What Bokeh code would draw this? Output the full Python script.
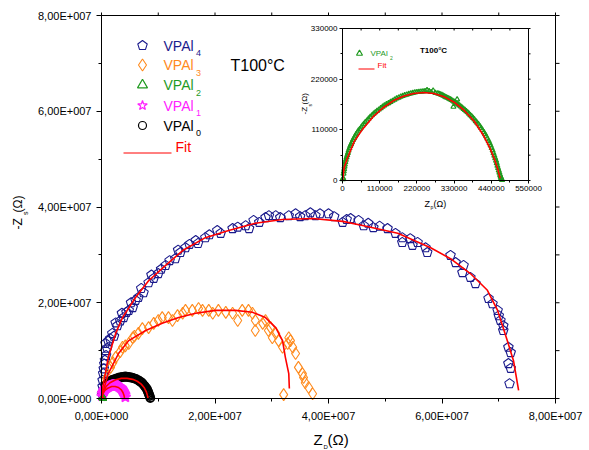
import numpy as np
from bokeh.plotting import figure
from bokeh.models import Range1d, LinearAxis, FixedTicker, Label
from bokeh.embed import file_html
from bokeh.resources import INLINE

# ---------------- data ----------------
x_ticks = [0, 2e7, 4e7, 6e7, 8e7]
x_minor = [1e7, 3e7, 5e7, 7e7]
x_tick_labels = ["0,00E+000", "2,00E+007", "4,00E+007", "6,00E+007", "8,00E+007"]
y_ticks = [0, 2e7, 4e7, 6e7, 8e7]
y_minor = [1e7, 3e7, 5e7, 7e7]
y_tick_labels = ["0,00E+000", "2,00E+007", "4,00E+007", "6,00E+007", "8,00E+007"]

inset_x_ticks = [0, 110000, 220000, 330000, 440000, 550000]
inset_x_minor = [55000, 165000, 275000, 385000, 495000]
inset_x_labels = ["0", "110000", "220000", "330000", "440000", "550000"]
inset_y_ticks = [0, 110000, 220000, 330000]
inset_y_minor = [55000, 165000, 275000]
inset_y_labels = ["0", "110000", "220000", "330000"]

# VPAl4 (blue pentagons)
vpal4_x = [0.01e7, 0.02e7, 0.02e7, 0.03e7, 0.04e7, 0.05e7, 0.06e7, 0.08e7, 0.07e7, 0.10e7,
           0.07e7, 0.12e7, 0.15e7, 0.19e7, 0.22e7, 0.28e7, 0.25e7, 0.33e7, 0.39e7, 0.36e7,
           0.44e7, 0.48e7, 0.55e7, 0.52e7, 0.65e7, 0.60e7, 0.74e7, 0.70e7, 0.83e7, 0.92e7,
           0.88e7, 1.00e7, 1.05e7, 1.13e7, 1.20e7, 1.30e7, 1.39e7, 1.35e7, 1.48e7, 1.55e7,
           1.66e7, 1.70e7, 1.83e7, 1.90e7, 2.04e7, 2.10e7, 2.31e7, 2.40e7, 2.54e7, 2.60e7,
           2.68e7, 2.78e7, 2.89e7, 2.95e7, 3.07e7, 3.15e7, 3.30e7, 3.42e7, 3.50e7, 3.59e7,
           3.68e7, 3.77e7, 3.85e7, 4.00e7, 4.10e7, 4.25e7, 4.32e7, 4.39e7, 4.53e7, 4.62e7,
           4.70e7, 4.79e7, 4.90e7, 5.04e7, 5.18e7, 5.30e7, 5.30e7, 5.44e7, 5.48e7, 5.57e7,
           5.71e7, 5.74e7, 6.15e7, 6.24e7, 6.38e7, 6.36e7, 6.50e7, 6.59e7, 6.82e7, 6.89e7,
           6.98e7, 7.00e7, 7.03e7, 7.08e7, 7.08e7, 7.17e7, 7.21e7, 7.17e7, 7.21e7, 7.19e7]
vpal4_y = [0.10e7, 0.25e7, 0.38e7, 0.52e7, 0.62e7, 0.72e7, 0.80e7, 0.90e7, 1.00e7, 1.05e7,
           1.15e7, 1.20e7, 1.25e7, 1.36e7, 1.30e7, 1.52e7, 1.58e7, 1.62e7, 1.69e7, 1.78e7,
           1.80e7, 1.84e7, 1.90e7, 2.00e7, 2.11e7, 2.05e7, 2.21e7, 2.30e7, 2.42e7, 2.51e7,
           2.58e7, 2.61e7, 2.70e7, 2.78e7, 2.88e7, 2.92e7, 3.05e7, 3.10e7, 3.15e7, 3.22e7,
           3.30e7, 3.24e7, 3.36e7, 3.42e7, 3.51e7, 3.45e7, 3.55e7, 3.58e7, 3.61e7, 3.55e7,
           3.72e7, 3.68e7, 3.78e7, 3.82e7, 3.82e7, 3.78e7, 3.82e7, 3.86e7, 3.80e7, 3.82e7,
           3.88e7, 3.82e7, 3.86e7, 3.86e7, 3.80e7, 3.68e7, 3.74e7, 3.76e7, 3.72e7, 3.61e7,
           3.66e7, 3.57e7, 3.60e7, 3.55e7, 3.45e7, 3.36e7, 3.26e7, 3.34e7, 3.20e7, 3.26e7,
           3.15e7, 3.05e7, 2.99e7, 2.84e7, 2.78e7, 2.63e7, 2.53e7, 2.40e7, 2.09e7, 1.98e7,
           1.84e7, 1.73e7, 1.63e7, 1.52e7, 1.42e7, 1.07e7, 0.96e7, 0.73e7, 0.63e7, 0.31e7]
fit4_x = [0, 0.018e7, 0.12e7, 0.25e7, 0.37e7, 0.60e7, 0.83e7, 1.13e7, 1.43e7, 1.83e7, 2.24e7,
          2.71e7, 3.19e7, 3.72e7, 4.25e7, 4.62e7, 5.22e7, 5.80e7, 6.15e7, 6.50e7, 6.80e7,
          6.98e7, 7.15e7, 7.26e7, 7.35e7]
fit4_y = [0, 0.20e7, 0.86e7, 1.36e7, 1.69e7, 2.11e7, 2.46e7, 2.78e7, 3.09e7, 3.36e7, 3.51e7,
          3.66e7, 3.74e7, 3.76e7, 3.70e7, 3.61e7, 3.45e7, 3.15e7, 2.92e7, 2.61e7, 2.26e7,
          1.84e7, 1.21e7, 0.79e7, 0.17e7]

# VPAl3 (orange diamonds)
vpal3_x = [0.03e7, 0.07e7, 0.10e7, 0.16e7, 0.20e7, 0.25e7, 0.33e7, 0.37e7, 0.42e7, 0.48e7,
           0.55e7, 0.58e7, 0.65e7, 0.72e7, 0.83e7, 0.92e7, 1.00e7, 1.07e7, 1.18e7, 1.25e7,
           1.34e7, 1.43e7, 1.48e7, 1.60e7, 1.71e7, 1.78e7, 1.89e7, 1.96e7, 2.06e7, 2.19e7,
           2.31e7, 2.40e7, 2.48e7, 2.59e7, 2.66e7, 2.71e7, 2.71e7, 2.84e7, 2.89e7, 2.94e7,
           2.98e7, 3.01e7, 3.07e7, 3.12e7, 3.19e7, 3.28e7, 3.30e7, 3.33e7, 3.37e7, 3.42e7,
           3.47e7, 3.54e7, 3.56e7, 3.59e7, 3.65e7, 3.72e7, 3.21e7]
vpal3_y = [0.15e7, 0.38e7, 0.45e7, 0.65e7, 0.75e7, 0.86e7, 0.98e7, 1.07e7, 1.10e7, 1.15e7,
           1.27e7, 1.30e7, 1.36e7, 1.46e7, 1.48e7, 1.57e7, 1.63e7, 1.69e7, 1.69e7, 1.63e7,
           1.73e7, 1.78e7, 1.84e7, 1.84e7, 1.88e7, 1.84e7, 1.84e7, 1.78e7, 1.84e7, 1.80e7,
           1.78e7, 1.63e7, 1.84e7, 1.84e7, 1.78e7, 1.63e7, 1.42e7, 1.57e7, 1.63e7, 1.42e7,
           1.48e7, 1.27e7, 1.36e7, 1.21e7, 1.07e7, 1.15e7, 1.27e7, 1.21e7, 1.07e7, 0.94e7,
           0.65e7, 0.52e7, 0.44e7, 0.33e7, 0.23e7, 0.10e7, 0.08e7]
fit3_x = [0, 0.018e7, 0.12e7, 0.30e7, 0.48e7, 0.78e7, 1.07e7, 1.36e7, 1.66e7, 2.01e7, 2.36e7,
          2.66e7, 2.89e7, 3.07e7, 3.19e7, 3.24e7, 3.30e7, 3.31e7]
fit3_y = [0, 0.10e7, 0.52e7, 0.94e7, 1.21e7, 1.42e7, 1.57e7, 1.69e7, 1.78e7, 1.84e7, 1.84e7,
          1.80e7, 1.69e7, 1.48e7, 1.21e7, 0.86e7, 0.52e7, 0.21e7]

# VPAl2 (green triangles) - also shown in the inset
vpal2_x = [1000, 2000, 3000, 4000, 5000, 6000, 7000, 8500, 10000, 12000, 14000, 16000, 18000,
           20500, 23000, 25500, 28000, 31000, 34000, 37000, 40000, 43500, 47000, 51000, 55000,
           59000, 63000, 67500, 72000, 77000, 82000, 87000, 92000, 97000, 102000, 107500,
           113000, 118500, 124000, 130000, 136000, 142000, 148000, 154000, 160000, 166000,
           172000, 178000, 184000, 190000, 196000, 202000, 208000, 214000, 220000, 226000,
           232000, 238000, 244000, 250000, 256000, 262000, 268000, 275000, 282000, 286000,
           290000, 294000, 298000, 302000, 306000, 310000, 314000, 318000, 322000, 326000,
           330000, 334000, 338000, 342000, 346000, 350000, 354000, 358000, 362000, 366000,
           370000, 374000, 378000, 382000, 386000, 390000, 394000, 398000, 402000, 406000,
           410000, 414000, 418000, 421500, 425000, 428500, 432000, 435000, 438000, 441000,
           444000, 446500, 449000, 451500, 454000, 456000, 458000, 460000, 462000, 464000,
           466000, 467500, 469000, 470500, 472000, 328000, 339000]
vpal2_y = [3000, 5000, 15000, 20000, 25000, 30000, 35000, 40000, 45000, 50000, 55000, 60000,
           65000, 70000, 75000, 79000, 83000, 88000, 92000, 96000, 100000, 104000, 108000,
           111500, 115000, 119000, 123000, 126500, 130000, 134000, 138000, 141500, 145000,
           148000, 151000, 154000, 157000, 160000, 163000, 165500, 168000, 170500, 173000,
           175500, 178000, 180000, 182000, 183500, 185000, 186500, 188000, 189000, 190000,
           191000, 192000, 192500, 193000, 193500, 194000, 196000, 194000, 192000, 195000,
           190000, 189000, 188000, 187000, 185500, 184000, 182500, 181000, 179500, 178000,
           176500, 175000, 173000, 171000, 169000, 167000, 165000, 163000, 160500, 158000,
           155500, 153000, 150500, 148000, 145000, 142000, 139000, 136000, 132500, 129000,
           125500, 122000, 118000, 114000, 109500, 105000, 100500, 96000, 91000, 86000, 81000,
           76000, 70500, 65000, 59500, 54000, 48500, 43000, 37500, 32000, 27000, 22000, 17000,
           12000, 8500, 5000, 3000, 1000, 160000, 176000]
fit2_x = [0, 5000, 15000, 35000, 60000, 90000, 120000, 150000, 180000, 210000, 240000, 270000,
          300000, 330000, 360000, 390000, 415000, 435000, 450000, 460000, 466000]
fit2_y = [0, 28000, 50000, 85000, 112000, 138000, 158000, 173000, 183000, 189000, 191000,
          189000, 182000, 170000, 152000, 128000, 100000, 72000, 45000, 22000, 5000]

# VPAl1 (magenta stars)
vpal1_x = [0.01e7, 0.02e7, 0.03e7, 0.04e7, 0.05e7, 0.06e7, 0.07e7, 0.08e7, 0.095e7, 0.11e7,
           0.125e7, 0.14e7, 0.155e7, 0.17e7, 0.185e7, 0.20e7, 0.215e7, 0.23e7, 0.245e7, 0.26e7,
           0.275e7, 0.29e7, 0.305e7, 0.32e7, 0.335e7, 0.35e7, 0.36e7, 0.37e7, 0.38e7, 0.39e7,
           0.40e7, 0.41e7, 0.42e7]
vpal1_y = [0.05e7, 0.10e7, 0.13e7, 0.15e7, 0.17e7, 0.19e7, 0.21e7, 0.22e7, 0.23e7, 0.24e7,
           0.25e7, 0.26e7, 0.265e7, 0.27e7, 0.275e7, 0.28e7, 0.28e7, 0.28e7, 0.275e7, 0.27e7,
           0.265e7, 0.26e7, 0.25e7, 0.24e7, 0.225e7, 0.21e7, 0.19e7, 0.17e7, 0.15e7, 0.13e7,
           0.10e7, 0.08e7, 0.03e7]
fit1_x = [0, 0.02e7, 0.06e7, 0.12e7, 0.18e7, 0.24e7, 0.30e7, 0.35e7, 0.38e7, 0.40e7, 0.405e7]
fit1_y = [0, 0.09e7, 0.17e7, 0.22e7, 0.25e7, 0.25e7, 0.23e7, 0.18e7, 0.12e7, 0.05e7, 0]

# VPAl0 (black circles)
vpal0_x = [0.02e7, 0.03e7, 0.04e7, 0.06e7, 0.07e7, 0.09e7, 0.10e7, 0.12e7, 0.14e7, 0.16e7,
           0.18e7, 0.20e7, 0.22e7, 0.25e7, 0.27e7, 0.30e7, 0.32e7, 0.35e7, 0.37e7, 0.40e7,
           0.42e7, 0.45e7, 0.47e7, 0.50e7, 0.52e7, 0.55e7, 0.57e7, 0.60e7, 0.62e7, 0.65e7,
           0.67e7, 0.70e7, 0.72e7, 0.74e7, 0.76e7, 0.78e7, 0.80e7, 0.81e7, 0.82e7, 0.83e7,
           0.84e7, 0.85e7, 0.86e7]
vpal0_y = [0.10e7, 0.14e7, 0.18e7, 0.24e7, 0.26e7, 0.29e7, 0.31e7, 0.33e7, 0.35e7, 0.36e7,
           0.38e7, 0.39e7, 0.40e7, 0.41e7, 0.42e7, 0.43e7, 0.44e7, 0.44e7, 0.45e7, 0.45e7,
           0.46e7, 0.45e7, 0.45e7, 0.44e7, 0.44e7, 0.43e7, 0.42e7, 0.41e7, 0.40e7, 0.38e7,
           0.36e7, 0.34e7, 0.32e7, 0.29e7, 0.26e7, 0.23e7, 0.20e7, 0.17e7, 0.14e7, 0.11e7,
           0.08e7, 0.05e7, 0.01e7]
fit0_x = [0, 0.03e7, 0.08e7, 0.15e7, 0.25e7, 0.35e7, 0.45e7, 0.55e7, 0.63e7, 0.70e7, 0.75e7,
          0.79e7, 0.81e7, 0.82e7]
fit0_y = [0, 0.13e7, 0.25e7, 0.33e7, 0.39e7, 0.42e7, 0.42e7, 0.40e7, 0.36e7, 0.30e7, 0.23e7,
          0.14e7, 0.06e7, 0]

legend_names = ["VPAl", "VPAl", "VPAl", "VPAl", "VPAl"]
legend_subs = ["4", "3", "2", "1", "0"]
temp_label = "T100°C"

# ---------------- styles / layout ----------------
BLUE, ORANGE, GREEN, MAGENTA, BLACK, RED = "#1a1a8c", "#ff8a1c", "#1f9a1f", "#ff22ff", "#000000", "#ff0000"
FONT = "Liberation Sans"

W, H = 589, 450
FL, FR, FT, FB = 101, 555, 15, 398      # main axes box (canvas px)
IL, IR, IT, IB = 342, 528, 28, 180      # inset box (canvas px)

XMAX, YMAX = x_ticks[-1], y_ticks[-1]
sx = XMAX / (FR - FL)
sy = YMAX / (FB - FT)
IXMAX, IYMAX = inset_x_ticks[-1], inset_y_ticks[-1]
ixs = IXMAX / (IR - IL)
iys = IYMAX / (IB - IT)

# the plotting frame covers the whole canvas; the axes are drawn at fixed locations
p = figure(width=W, height=H, output_backend="svg", toolbar_location=None,
           x_range=Range1d(-FL * sx, XMAX + (W - FR) * sx),
           y_range=Range1d(-(H - FB) * sy, YMAX + FT * sy),
           x_axis_type=None, y_axis_type=None, min_border=0)
p.min_border_left = p.min_border_right = p.min_border_top = p.min_border_bottom = 0
p.xgrid.visible = False
p.ygrid.visible = False
p.outline_line_color = None
p.background_fill_color = "white"
p.border_fill_color = "white"

p.extra_x_ranges = {
    "cx": Range1d(0, W),
    "ix": Range1d(-IL * ixs, IXMAX + (W - IR) * ixs),
}
p.extra_y_ranges = {
    "cy": Range1d(H, 0),
    "iy": Range1d(-(H - IB) * iys, IYMAX + IT * iys),
}


def style_axis(ax, size="11px", tick=5, minor=3, standoff=5):
    ax.axis_line_color = "black"
    ax.axis_line_width = 1
    ax.major_tick_out = tick
    ax.major_tick_in = 0
    ax.minor_tick_out = minor
    ax.minor_tick_in = 0
    ax.major_tick_line_color = "black"
    ax.minor_tick_line_color = "black"
    ax.major_label_text_font = FONT
    ax.major_label_text_font_size = size
    ax.major_label_text_color = "black"
    ax.major_label_standoff = standoff
    ax.axis_label = None


def pentagons(xs, ys, size, **kw):
    try:
        return p.ngon(x=xs, y=ys, radius=size / 2.0, radius_units="screen", n=5,
                      fill_color=None, line_color=BLUE, line_width=1.1, **kw)
    except Exception:
        return p.scatter(x=xs, y=ys, marker="hex", size=size, fill_color=None,
                         line_color=BLUE, line_width=1.1, **kw)


# ---- main box and axes ----
p.quad(left=[0], right=[XMAX], bottom=[0], top=[YMAX], fill_color=None, line_color="black", line_width=1)
xb = LinearAxis(fixed_location=0, bounds=(0, XMAX),
                ticker=FixedTicker(ticks=x_ticks, minor_ticks=x_minor),
                major_label_overrides=dict(zip(x_ticks, x_tick_labels)))
style_axis(xb, standoff=6)
p.add_layout(xb, "below")
yl = LinearAxis(fixed_location=0, bounds=(0, YMAX),
                ticker=FixedTicker(ticks=y_ticks, minor_ticks=y_minor),
                major_label_overrides=dict(zip(y_ticks, y_tick_labels)))
style_axis(yl)
p.add_layout(yl, "left")
# mirrored ticks (top / right)
top_t = x_ticks + x_minor
p.segment(x0=top_t, y0=[YMAX] * len(top_t), x1=top_t, y1=[YMAX + 3 * sy] * len(top_t),
          line_color="black", line_width=1)
right_t = y_ticks + y_minor
p.segment(x0=[XMAX] * len(right_t), y0=right_t, x1=[XMAX + 4 * sx] * len(right_t), y1=right_t,
          line_color="black", line_width=1)

# ---- main data ----
pentagons(vpal4_x, vpal4_y, 10)
p.scatter(vpal3_x, vpal3_y, marker="diamond", size=12, fill_color=None, line_color=ORANGE, line_width=1.1)
p.scatter(vpal0_x, vpal0_y, marker="circle", size=8, fill_color=None, line_color=BLACK, line_width=1.8)
p.scatter(vpal1_x, vpal1_y, marker="star", size=11, fill_color=None, line_color=MAGENTA, line_width=1.8)
p.scatter(vpal2_x, vpal2_y, marker="triangle", size=5, fill_color=None, line_color=GREEN, line_width=1)
for fxs, fys in [(fit4_x, fit4_y), (fit3_x, fit3_y), (fit0_x, fit0_y), (fit1_x, fit1_y), (fit2_x, fit2_y)]:
    p.line(fxs, fys, line_color=RED, line_width=1.6)

# ---- inset ----
ir = dict(x_range_name="ix", y_range_name="iy")
p.quad(left=[0], right=[IXMAX], bottom=[0], top=[IYMAX], fill_color="white",
       line_color="black", line_width=1, **ir)
p.scatter(vpal2_x, vpal2_y, marker="triangle", size=5, fill_color=None, line_color=GREEN,
          line_width=1.2, **ir)
p.line(fit2_x, fit2_y, line_color=RED, line_width=1.6, **ir)

ixa = LinearAxis(fixed_location=0, bounds=(0, IXMAX),
                 ticker=FixedTicker(ticks=inset_x_ticks, minor_ticks=inset_x_minor),
                 major_label_overrides=dict(zip(inset_x_ticks, inset_x_labels)), **ir)
style_axis(ixa, size="8px", tick=3, minor=2, standoff=2)
p.add_layout(ixa, "below")
iya = LinearAxis(fixed_location=0, bounds=(0, IYMAX),
                 ticker=FixedTicker(ticks=inset_y_ticks, minor_ticks=inset_y_minor),
                 major_label_overrides=dict(zip(inset_y_ticks, inset_y_labels)), **ir)
style_axis(iya, size="8px", tick=3, minor=2, standoff=2)
p.add_layout(iya, "left")
it_t = inset_x_ticks + inset_x_minor
p.segment(x0=it_t, y0=[IYMAX] * len(it_t), x1=it_t, y1=[IYMAX - 2 * iys] * len(it_t),
          line_color="black", line_width=1, **ir)
ir_t = inset_y_ticks + inset_y_minor
p.segment(x0=[IXMAX] * len(ir_t), y0=ir_t, x1=[IXMAX + 2 * ixs] * len(ir_t), y1=ir_t,
          line_color="black", line_width=1, **ir)

cr = dict(x_range_name="cx", y_range_name="cy")   # canvas-pixel coordinates for legend keys


def text(px, py, s, size, color="black", align="left", baseline="middle", angle=0.0, style="normal"):
    p.add_layout(Label(x=px, y=H - py, x_units="screen", y_units="screen", text=s,
                       text_font=FONT, text_font_size=f"{size}px", text_color=color,
                       text_align=align, text_baseline=baseline, angle=angle,
                       text_font_style=style))


# ---- main legend ----
rows_y = [45, 64.5, 84.5, 105, 125]
colors = [BLUE, ORANGE, GREEN, MAGENTA, BLACK]
pentagons([142], [rows_y[0]], 10, **cr)
p.scatter([142], [rows_y[1]], marker="diamond", size=12, fill_color=None, line_color=ORANGE,
          line_width=1.1, **cr)
p.scatter([142], [rows_y[2]], marker="triangle", size=10, fill_color=None, line_color=GREEN,
          line_width=1.2, **cr)
p.scatter([142], [rows_y[3]], marker="star", size=10, fill_color=None, line_color=MAGENTA,
          line_width=1.2, **cr)
p.scatter([142], [rows_y[4]], marker="circle", size=8, fill_color=None, line_color=BLACK,
          line_width=1.2, **cr)
for ry, nm, sb, c in zip(rows_y, legend_names, legend_subs, colors):
    text(163, ry, nm, 14, c)
    text(195.5, ry + 7.5, sb, 9, c)
p.line([123, 171], [152.5, 152.5], line_color=RED, line_width=1, **cr)
text(175, 146, "Fit", 14, RED)
text(230, 65, temp_label, 16, "black")

# ---- main axis titles ----
text(313, 439, "Z", 15)
text(323, 446, "D", 6)
text(327, 439, "(Ω)", 15)
text(17, 229, "-Z", 12, angle=np.pi / 2)
text(25, 214.5, "s", 7, angle=np.pi / 2)
text(17, 212, "(Ω)", 12, angle=np.pi / 2)

# ---- inset legend and titles ----
p.scatter([359], [53], marker="triangle", size=6, fill_color=None, line_color=GREEN,
          line_width=1.2, **cr)
text(370, 53, "VPAl", 8, GREEN)
text(389.5, 57, "2", 5, GREEN)
p.line([358, 374], [68.5, 68.5], line_color=RED, line_width=1, **cr)
text(377, 65, "Fit", 8, RED)
text(433, 50, temp_label, 8, "black", align="center", style="bold")
text(424, 203, "Z", 9)
text(430, 206.5, "p", 5)
text(433, 203, "(Ω)", 9)
text(304, 114, "-Z", 8, angle=np.pi / 2)
text(309, 106, "s", 5, angle=np.pi / 2)
text(304, 104, "(Ω)", 8, angle=np.pi / 2)

open("out.html", "w").write(file_html(p, INLINE))
